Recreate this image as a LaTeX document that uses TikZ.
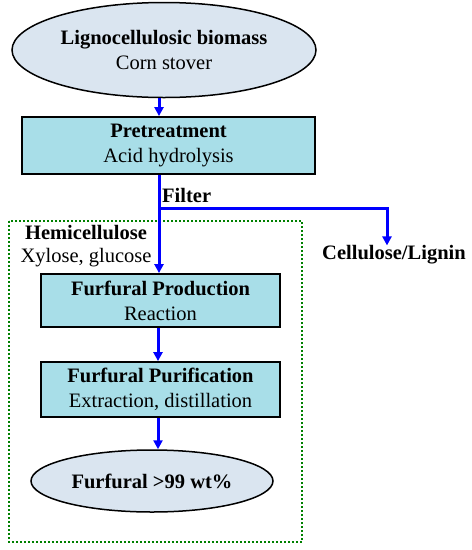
\documentclass[tikz,border=0pt]{standalone}
\usepackage{fontspec}
\setmainfont{Liberation Serif}
\usetikzlibrary{arrows.meta,shapes.geometric}
\definecolor{boxfill}{RGB}{168,222,232}
\definecolor{ellfill}{RGB}{218,229,240}
\definecolor{dotgreen}{RGB}{0,128,0}
\tikzset{
  procbox/.style={draw=black,line width=1.8pt,fill=boxfill,rectangle,inner sep=0pt,align=center,font=\fontsize{20.5}{25}\selectfont},
  termell/.style={draw=black,line width=1.5pt,fill=ellfill,ellipse,inner sep=0pt,align=center,font=\fontsize{20.5}{25}\selectfont},
  flow/.style={draw=blue,line width=3pt,-{Triangle[length=9pt,width=9pt]}},
  flowline/.style={draw=blue,line width=3pt},
  lbl/.style={inner sep=0pt,font=\fontsize{20.5}{25}\selectfont},
}
\begin{document}
\begin{tikzpicture}[x=1pt,y=-1pt]
\useasboundingbox (0,0) rectangle (472,550);
\fill[white] (0,0) rectangle (472,550);
\draw[dotgreen,line width=2pt,dotted] (9,221) rectangle (302,542);
\node[termell,minimum width=304pt,minimum height=95pt] (bio) at (164,50) {\textbf{Lignocellulosic biomass}\\Corn stover};
\node[procbox,minimum width=293pt,minimum height=57pt] (pre) at (168.5,145.5) {\textbf{Pretreatment}\\Acid hydrolysis};
\node[procbox,minimum width=239pt,minimum height=53pt] (prod) at (160.5,300.5) {\textbf{Furfural Production}\\Reaction};
\node[procbox,minimum width=239pt,minimum height=55pt] (pur) at (160.5,389.5) {\textbf{Furfural Purification}\\Extraction, distillation};
\node[termell,minimum width=242pt,minimum height=62pt] (fur) at (152,481) {\textbf{Furfural >99 wt\%}};
\node[lbl,anchor=west] (filt) at (162,195) {\textbf{Filter}};
\node[lbl] (cel) at (394,255) {\textbf{Cellulose/Lignin}};
\node[lbl] (hemi) at (86,233) {\textbf{Hemicellulose}};
\node[lbl] (xyl) at (86,258) {Xylose, glucose};
\coordinate (ax) at (159,0);
\coordinate (br) at (159,208);
\coordinate (cr) at (387,208);
\draw[flow] (bio.south -| ax) -- (pre.north -| ax);
\draw[flowline] (pre.south -| ax) -- (br);
\draw[flow] (br) -- (prod.north -| br);
\draw[flow] (br) -- (cr) -- (cel.north -| cr);
\coordinate (ax2) at (158,0);
\draw[flow] (prod.south -| ax2) -- (pur.north -| ax2);
\draw[flow] (pur.south -| ax2) -- (fur.north -| ax2);
\end{tikzpicture}
\end{document}
